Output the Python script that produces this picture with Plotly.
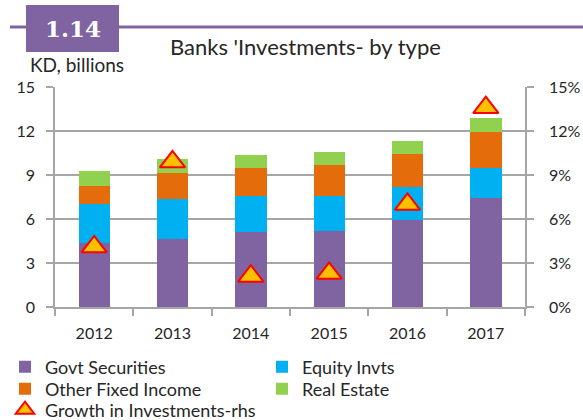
import plotly.graph_objects as go

years = ["2012", "2013", "2014", "2015", "2016", "2017"]
govt_securities = [4.33, 4.63, 5.13, 5.19, 5.95, 7.45]
equity_invts = [2.67, 2.71, 2.46, 2.41, 2.21, 2.01]
other_fixed_income = [1.27, 1.80, 1.91, 2.09, 2.30, 2.50]
real_estate = [0.98, 0.98, 0.85, 0.90, 0.87, 0.92]
growth_rhs = [4.1, 9.9, 2.1, 2.3, 7.0, 13.6]

left_ticks = [0, 3, 6, 9, 12, 15]
right_ticks = [0, 3, 6, 9, 12, 15]

W, H = 583, 420
L, R, T, B = 55, 58, 87, 113
PW, PH = W - L - R, H - T - B

def px_x(x):
    return (x - L) / PW

def px_y(y):
    return (H - B - y) / PH

FONT = "Lato"
TXT = "#262626"
GRID = "#A6A6A6"

fig = go.Figure()
for name, vals, col, lg in [
    ("Govt Securities", govt_securities, "#8064A2", "legend"),
    ("Equity Invts", equity_invts, "#00B0F0", "legend"),
    ("Other Fixed Income", other_fixed_income, "#E46C0A", "legend2"),
    ("Real Estate", real_estate, "#92D050", "legend2"),
]:
    fig.add_trace(go.Bar(x=years, y=vals, name=name, legend=lg,
                         marker=dict(color=col, line=dict(width=0))))

fig.add_trace(go.Scatter(
    x=years, y=growth_rhs, name="Growth in Investments-rhs", mode="markers", yaxis="y2",
    legend="legend3",
    marker=dict(symbol="triangle-up", size=22, color="#FFC000", line=dict(color="#FF0000", width=2)),
))

axis_common = dict(
    showline=True, linecolor=GRID, linewidth=1.5, ticks="outside", ticklen=7,
    tickcolor=GRID, tickwidth=1.5, tickfont=dict(family=FONT, size=16, color=TXT),
)

def legend_row(y_px):
    return dict(
        orientation="h", x=px_x(5), y=px_y(y_px), xanchor="left", yanchor="middle",
        traceorder="normal", entrywidth=212, itemwidth=30,
        font=dict(family=FONT, size=18, color=TXT), bgcolor="rgba(0,0,0,0)",
    )

fig.update_layout(
    width=W, height=H,
    margin=dict(l=L, r=R, t=T, b=B, autoexpand=False),
    paper_bgcolor="white", plot_bgcolor="white",
    barmode="stack", bargap=0.6,
    font=dict(family=FONT, color=TXT),
    showlegend=True,
    legend=legend_row(367),
    legend2=legend_row(389),
    legend3=legend_row(410),
    xaxis=dict(**axis_common, tickson="boundaries", ticklabelstandoff=11),
    yaxis=dict(**axis_common, range=[0, 15], tickvals=left_ticks, showgrid=True,
               gridcolor=GRID, gridwidth=1.5, zeroline=False, ticklabelstandoff=8),
    yaxis2=dict(**axis_common, range=[0, 15], tickvals=right_ticks,
                ticktext=[f"{v}%" for v in right_ticks], overlaying="y", side="right",
                showgrid=False, zeroline=False, ticklabelstandoff=12),
)

# header decoration
fig.add_shape(type="line", xref="paper", yref="paper",
              x0=px_x(10), x1=px_x(583), y0=px_y(27), y1=px_y(27),
              line=dict(color="#8064A2", width=3))
fig.add_shape(type="rect", xref="paper", yref="paper",
              x0=px_x(26), x1=px_x(119), y0=px_y(52), y1=px_y(5),
              fillcolor="#8064A2", line=dict(width=0))
fig.add_annotation(text="<b>1.14</b>", xref="paper", yref="paper", x=px_x(73), y=px_y(29),
                   xanchor="center", yanchor="middle", showarrow=False,
                   font=dict(family="DejaVu Serif", size=23, color="white"))
fig.add_annotation(text="Banks 'Investments- by type", xref="paper", yref="paper",
                   x=px_x(305), y=px_y(46), xanchor="center", yanchor="middle", showarrow=False,
                   font=dict(family=FONT, size=22, color=TXT))
fig.add_annotation(text="KD, billions", xref="paper", yref="paper",
                   x=px_x(28), y=px_y(64), xanchor="left", yanchor="middle", showarrow=False,
                   font=dict(family=FONT, size=19, color=TXT))

fig.write_html("out.html", config={"displayModeBar": False},
               post_script="document.body.style.margin='0px';")
